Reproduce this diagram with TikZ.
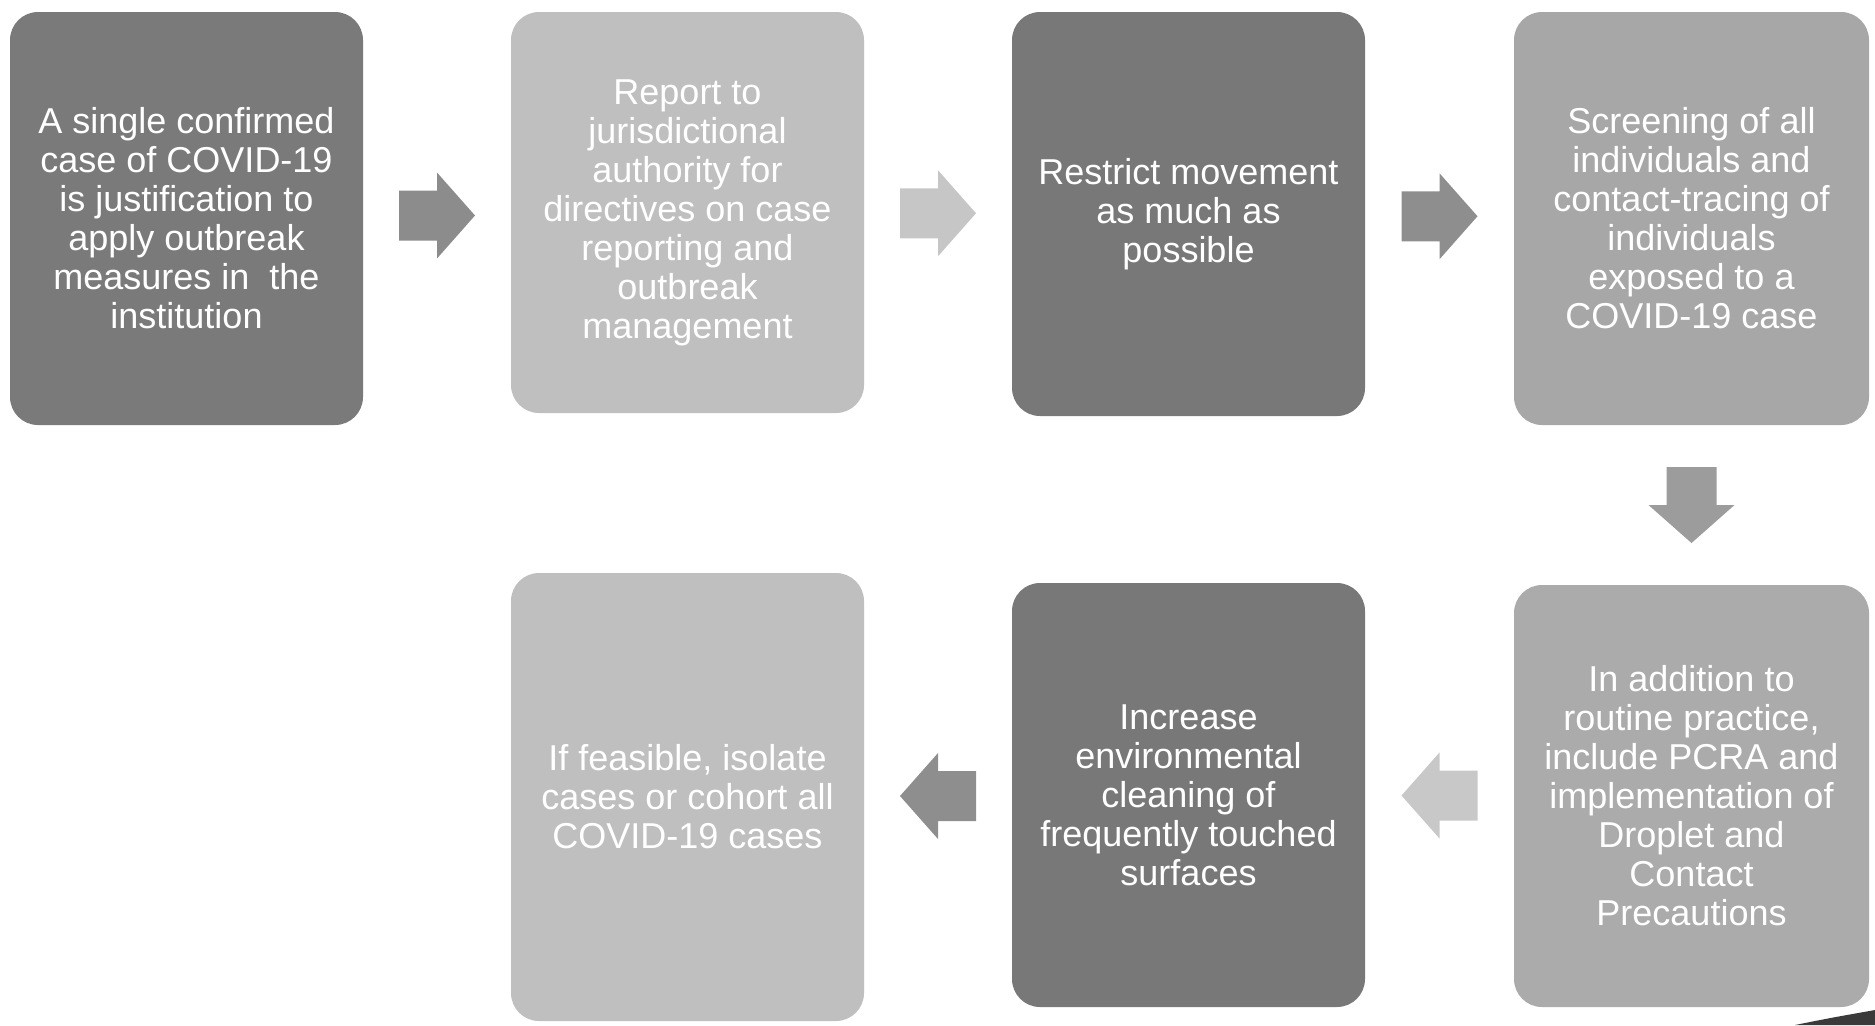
\documentclass[tikz,border=0pt]{standalone}
\usepackage{fontspec}
\setmainfont{Liberation Sans}
\begin{document}
\begin{tikzpicture}[x=0.5pt,y=-0.5pt,
  bx/.style={rounded corners=14pt, inner sep=0pt, align=center, text=white,
    font=\fontsize{18}{19.5}\selectfont, minimum width=176.5pt},
  blockarrow/.pic={\path[pic actions] (-38,-25) -- (0,-25) -- (0,-43) -- (38,0) -- (0,43) -- (0,25) -- (-38,25) -- cycle;}
]
\definecolor{dk1}{HTML}{7A7A7A}
\definecolor{lt1}{HTML}{BFBFBF}
\definecolor{md1}{HTML}{A7A7A7}
\useasboundingbox (0,0) rectangle (1875,1025);

\node[bx, fill=dk1, minimum height=206.5pt] (b1) at (186.5,218.5)
  {A single confirmed\\case of COVID-19\\is justification to\\apply outbreak\\measures in\ \ the\\institution};
\node[bx, fill=lt1, minimum height=200.5pt] (b2) at (687.5,212.5)
  {Report to\\jurisdictional\\authority for\\directives on case\\reporting and\\outbreak\\management};
\node[bx, fill=dk1!98!black, minimum height=202pt] (b3) at (1188.5,214)
  {Restrict movement\\as much as\\possible};
\node[bx, fill=md1, minimum height=206.5pt, minimum width=177.5pt] (b4) at (1691.5,218.5)
  {Screening of all\\individuals and\\contact-tracing of\\individuals\\exposed to a\\COVID-19 case};
\node[bx, fill=md1!96!white, minimum height=211pt, minimum width=177.5pt] (b5) at (1691.5,796)
  {In addition to\\routine practice,\\include PCRA and\\implementation of\\Droplet and\\Contact\\Precautions};
\node[bx, fill=dk1!98!black, minimum height=212pt] (b6) at (1188.5,795)
  {Increase\\environmental\\cleaning of\\frequently touched\\surfaces};
\node[bx, fill=lt1, minimum height=224pt] (b7) at (687.5,797)
  {If feasible, isolate\\cases or cohort all\\COVID-19 cases};

\path (b1.east) -- (b2.west) coordinate[midway] (a12);
\path (b2.east) -- (b3.west) coordinate[midway] (a23);
\path (b3.east) -- (b4.west) coordinate[midway] (a34);
\path (b4.south) -- (b5.north) coordinate[midway] (a45);
\path (b5.west) -- (b6.east) coordinate[midway] (a56);
\path (b6.west) -- (b7.east) coordinate[midway] (a67);

\pic[fill={rgb,255:red,140;green,140;blue,140}] at (a12) {blockarrow};
\pic[fill={rgb,255:red,198;green,198;blue,198}] at (a23) {blockarrow};
\pic[fill={rgb,255:red,142;green,142;blue,142}] at (a34) {blockarrow};
\pic[fill={rgb,255:red,156;green,156;blue,156}, rotate=-90] at (a45) {blockarrow};
\pic[fill={rgb,255:red,200;green,200;blue,200}, rotate=180] at (a56) {blockarrow};
\pic[fill={rgb,255:red,142;green,142;blue,142}, rotate=180] at (a67) {blockarrow};

\fill[fill={rgb,255:red,58;green,58;blue,58}] (1795,1025) .. controls (1830,1018) .. (1875,1010) -- (1875,1025) -- cycle;
\end{tikzpicture}
\end{document}
